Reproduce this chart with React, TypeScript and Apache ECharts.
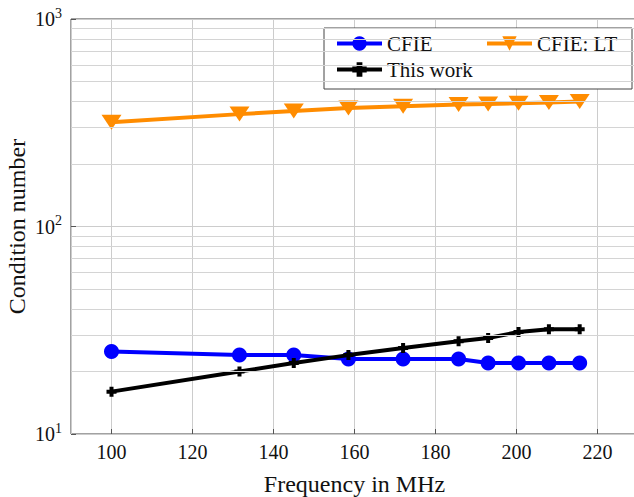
import React, { useEffect, useRef } from "react";
import * as echarts from "echarts";

const freqs = [100, 131.6, 145, 158.5, 172, 185.7, 193, 200.5, 208, 215.6];
const cfie = [25, 24, 24, 23, 23, 23, 22, 22, 22, 22];
const thisWork = [16, 20, 22, 24, 26, 28, 29, 31, 32, 32];
const cfieLT = [318, 348, 360, 372, 380, 387, 389, 393, 396, 400];
const minorGrid = [20, 30, 40, 50, 60, 70, 80, 90, 200, 300, 400, 500, 600, 700, 800, 900];
const legendOrder = ["CFIE", "CFIE: LT", "This work"];

const FONT = "Liberation Serif";
const plusPath = "path://M3,0h4v3h3v4h-3v3h-4v-3h-3v-4h3z";

export default function App() {
  const ref = useRef<HTMLDivElement>(null);
  useEffect(() => {
    if (!ref.current) return;
    const chart = echarts.init(ref.current, null, { renderer: "svg" });
    const pair = (ys: number[]) => freqs.map((f, i) => [f, ys[i]]);
    chart.setOption({
      animation: false,
      textStyle: { fontFamily: FONT },
      grid: {
        left: 71,
        top: 19,
        bottom: 63,
        right: -4,
        show: true,
        borderColor: "#444",
        borderWidth: 1,
        outerBoundsMode: "none",
      },
      legend: {
        data: legendOrder,
        left: 324,
        top: 28,
        width: 300,
        orient: "horizontal",
        itemWidth: 45,
        itemHeight: 18,
        itemGap: 5,
        padding: [5, 2, 9, 11],
        borderColor: "#444",
        borderWidth: 1,
        backgroundColor: "#fff",
        lineStyle: { width: 4 },
        textStyle: { fontFamily: FONT, fontSize: 21, color: "#111", width: 93, lineHeight: 21 },
      },
      xAxis: {
        type: "value",
        min: 90,
        max: 230,
        splitNumber: 7,
        name: "Frequency in MHz",
        nameLocation: "middle",
        nameGap: 38,
        nameMoveOverlap: false,
        nameTextStyle: { fontFamily: FONT, fontSize: 24, color: "#111" },
        axisLine: { show: false },
        axisTick: { show: true, inside: true, length: 5, lineStyle: { color: "#555" } },
        axisLabel: {
          fontFamily: FONT,
          fontSize: 20,
          color: "#111",
          margin: 8,
          showMinLabel: false,
          showMaxLabel: false,
        },
        splitLine: { show: true, lineStyle: { color: "#cccccc", width: 1 } },
      },
      yAxis: {
        type: "log",
        logBase: 10,
        min: 10,
        max: 1000,
        name: "Condition number",
        nameLocation: "middle",
        nameGap: 42,
        nameMoveOverlap: false,
        nameTextStyle: { fontFamily: FONT, fontSize: 24, color: "#111" },
        axisLine: { show: false },
        axisTick: { show: true, inside: true, length: 5, lineStyle: { color: "#555" } },
        axisLabel: {
          margin: 9,
          formatter: (v: number) => `{b|10}{s|${Math.round(Math.log10(v))}}`,
          rich: {
            b: { fontFamily: FONT, fontSize: 20, color: "#111" },
            s: { fontFamily: FONT, fontSize: 14, color: "#111", verticalAlign: "top", padding: [0, 0, 12, 0] },
          },
        },
        splitLine: { show: true, lineStyle: { color: "#cccccc", width: 1 } },
      },
      series: [
        {
          name: "grid",
          type: "line",
          data: [],
          z: 0,
          silent: true,
          markLine: {
            silent: true,
            symbol: "none",
            label: { show: false },
            lineStyle: { color: "#d4d4d4", type: "solid", width: 1 },
            emphasis: { disabled: true },
            data: minorGrid.map((v) => ({ yAxis: v })),
          },
        },
        {
          name: "CFIE",
          type: "line",
          data: pair(cfie),
          color: "#0000ff",
          lineStyle: { width: 4, color: "#0000ff" },
          symbol: "circle",
          symbolSize: 15,
          itemStyle: { color: "#0000ff" },
          z: 3,
        },
        {
          name: "This work",
          type: "line",
          data: pair(thisWork),
          color: "#000",
          lineStyle: { width: 4, color: "#000" },
          symbol: plusPath,
          symbolSize: 10,
          itemStyle: { color: "#000" },
          z: 4,
        },
        {
          name: "CFIE: LT",
          type: "line",
          data: pair(cfieLT),
          color: "#ff8c00",
          lineStyle: { width: 4, color: "#ff8c00" },
          symbol: "triangle",
          symbolRotate: 180,
          symbolSize: [20, 15],
          itemStyle: { color: "#ff8c00" },
          z: 3,
        },
      ],
    });
    return () => chart.dispose();
  }, []);
  return (
    <div
      ref={ref}
      style={{ position: "fixed", left: 0, top: 0, width: 634, height: 497, background: "#fff" }}
    />
  );
}
